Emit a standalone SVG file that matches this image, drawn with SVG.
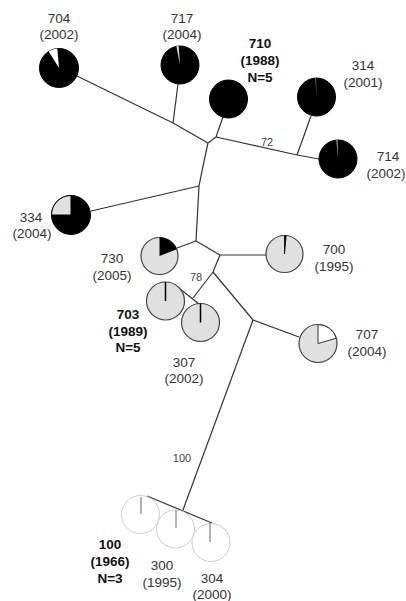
<svg xmlns="http://www.w3.org/2000/svg" width="406" height="601" viewBox="0 0 406 601">
<style>
.e{fill:none;stroke:#333;stroke-width:1.2;stroke-linejoin:round}
.lbl{font-family:"Liberation Sans",Arial,sans-serif;font-size:13.5px;fill:#333;text-anchor:middle}
.b{font-weight:bold;fill:#111}
.el{font-family:"Liberation Sans",Arial,sans-serif;font-size:11px;fill:#444;text-anchor:middle}
.blk{fill:#000;stroke:#000;stroke-width:1}
.gry{fill:#e0e0e0;stroke:#444;stroke-width:1.2}
.wht{fill:#fff;stroke:#333;stroke-width:1}
.pale{fill:none;stroke:#ccc;stroke-width:1}
.tick{stroke:#000;stroke-width:1.5}
.ptick{stroke:#999;stroke-width:1.5}
</style>
<rect width="406" height="601" fill="#fff"/>
<g id="connectors">
<polyline class="e" points="77,76 173,123 208,143"/>
<line class="e" x1="173" y1="123" x2="178" y2="84"/>
<line class="e" x1="208" y1="143" x2="216" y2="137"/>
<line class="e" x1="216" y1="137" x2="223" y2="117"/>
<line class="e" x1="216" y1="137" x2="297" y2="155"/>
<line class="e" x1="297" y1="155" x2="311" y2="116"/>
<line class="e" x1="297" y1="155" x2="319" y2="159"/>
<polyline class="e" points="208,143 203,166 199,186 196,241"/>
<line class="e" x1="199" y1="186" x2="91" y2="211"/>
<line class="e" x1="196" y1="241" x2="177" y2="248"/>
<line class="e" x1="196" y1="241" x2="220" y2="255"/>
<line class="e" x1="220" y1="255" x2="266" y2="255"/>
<line class="e" x1="220" y1="255" x2="213" y2="272"/>
<line class="e" x1="213" y1="272" x2="193" y2="298"/>
<line class="e" x1="175" y1="285" x2="199" y2="304"/>
<line class="e" x1="213" y1="272" x2="253" y2="320"/>
<line class="e" x1="253" y1="320" x2="299" y2="337"/>
<line class="e" x1="253" y1="320" x2="183" y2="510"/>
<line class="e" x1="147" y1="496" x2="212" y2="523"/>
<text class="el" x="267" y="146">72</text>
<text class="el" x="196" y="281">78</text>
<text class="el" x="182" y="462">100</text>
</g>
<g id="n704">
<circle class="blk" cx="59" cy="68" r="19.5"/>
<path d="M59,68 L48.67,51.46 A19.5,19.5 0 0 1 57.3,48.57 Z" fill="#fff"/>
<text class="lbl" x="59" y="23">704</text>
<text class="lbl" x="59" y="39">(2002)</text>
</g>
<g id="n717">
<circle class="blk" cx="180" cy="65" r="19"/>
<path d="M180,65 L176.37,46.35 A19,19 0 0 1 178.67,46.05 Z" fill="#ddd"/>
<text class="lbl" x="182" y="23">717</text>
<text class="lbl" x="182" y="39">(2004)</text>
</g>
<g id="n710">
<circle class="blk" cx="228.5" cy="99" r="19"/>
<text class="lbl b" x="260" y="48">710</text>
<text class="lbl b" x="260" y="65">(1988)</text>
<text class="lbl b" x="260" y="82">N=5</text>
</g>
<g id="n314">
<circle class="blk" cx="316.5" cy="97" r="19"/>
<path d="M316.5,97 L315.2,78.05 A19,19 0 0 1 316.2,78 Z" fill="#777"/>
<text class="lbl" x="363" y="70">314</text>
<text class="lbl" x="363" y="87">(2001)</text>
</g>
<g id="n714">
<circle class="blk" cx="338" cy="159" r="19"/>
<path d="M338,159 L336.34,140.07 A19,19 0 0 1 337.67,140 Z" fill="#aaa"/>
<text class="lbl" x="388" y="161">714</text>
<text class="lbl" x="386" y="178">(2002)</text>
</g>
<g id="n334">
<circle class="blk" cx="71" cy="215" r="19.5"/>
<path d="M71,215 L51.5,215 A19.5,19.5 0 0 1 71,195.5 Z" fill="#e0e0e0" stroke="#000" stroke-width="1"/>
<text class="lbl" x="31" y="222">334</text>
<text class="lbl" x="32" y="238">(2004)</text>
</g>
<g id="n730">
<circle class="gry" cx="159.5" cy="256" r="18.5"/>
<path d="M159.5,256 L159.5,237.5 A18.5,18.5 0 0 1 176.77,249.37 Z" fill="#000"/>
<text class="lbl" x="112" y="263">730</text>
<text class="lbl" x="112" y="280">(2005)</text>
</g>
<g id="n700">
<circle class="gry" cx="284.5" cy="254" r="18.5"/>
<path d="M284.5,254 L284.5,235.5 A18.5,18.5 0 0 1 286.11,235.57 Z" fill="#000" stroke="#000" stroke-width="0.8"/>
<text class="lbl" x="334" y="254">700</text>
<text class="lbl" x="334" y="271">(1995)</text>
</g>
<g id="n703">
<circle class="gry" cx="165.5" cy="301" r="19"/>
<line class="tick" x1="165.5" y1="301" x2="165.5" y2="282"/>
<text class="lbl b" x="128" y="319">703</text>
<text class="lbl b" x="128" y="336">(1989)</text>
<text class="lbl b" x="128" y="352">N=5</text>
</g>
<g id="n307">
<circle class="gry" cx="200.5" cy="322.5" r="19"/>
<line class="tick" x1="200.5" y1="322.5" x2="200.5" y2="303.5"/>
<text class="lbl" x="184" y="367">307</text>
<text class="lbl" x="184" y="383">(2002)</text>
</g>
<g id="n707">
<circle class="gry" cx="318" cy="343.5" r="19"/>
<path d="M318,343.5 L318,324.5 A19,19 0 0 1 336.26,338.26 Z" class="wht"/>
<text class="lbl" x="367" y="339">707</text>
<text class="lbl" x="367" y="356">(2004)</text>
</g>
<g id="n100">
<circle class="pale" cx="140.5" cy="514.5" r="19"/>
<line class="ptick" x1="141" y1="497" x2="141" y2="514"/>
<text class="lbl b" x="110" y="549">100</text>
<text class="lbl b" x="110" y="566">(1966)</text>
<text class="lbl b" x="110" y="583">N=3</text>
</g>
<g id="n300">
<circle class="pale" cx="175.5" cy="529" r="19"/>
<line class="ptick" x1="176" y1="510" x2="176" y2="528"/>
<text class="lbl" x="162" y="570">300</text>
<text class="lbl" x="162" y="587">(1995)</text>
</g>
<g id="n304">
<circle class="pale" cx="211" cy="542.5" r="19"/>
<line class="ptick" x1="210" y1="523" x2="210" y2="542"/>
<text class="lbl" x="212" y="583">304</text>
<text class="lbl" x="212" y="599">(2000)</text>
</g>
</svg>
